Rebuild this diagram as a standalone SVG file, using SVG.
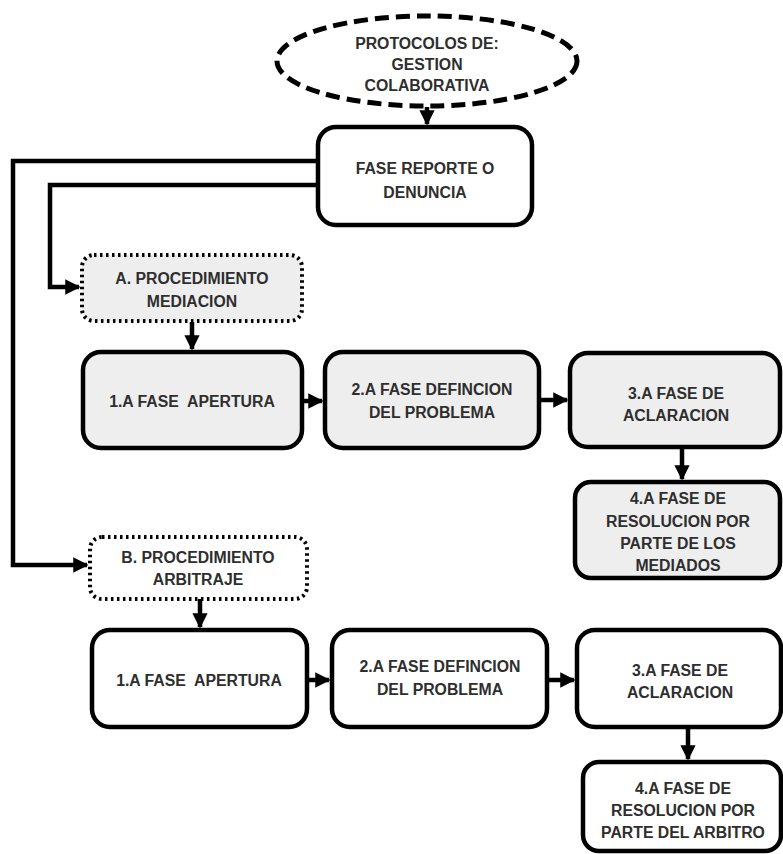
<svg xmlns="http://www.w3.org/2000/svg" width="783" height="854" viewBox="0 0 783 854">
<defs>
<marker id="ah" viewBox="0 0 10 10" refX="9" refY="5" markerWidth="3.4" markerHeight="3.4" orient="auto" markerUnits="strokeWidth">
<path d="M0,0 L10,5 L0,10 Z" fill="#000"/>
</marker>
</defs>
<style>
.box{stroke:#000;stroke-width:4.5;fill:#fff}
.gray{fill:#eeeeee}
.dot{stroke-dasharray:2.5 3.5;stroke-width:4}
.t{font-family:"Liberation Sans",Arial,sans-serif;font-weight:bold;font-size:15.8px;fill:#2e2e2e;text-anchor:middle;white-space:pre}
.c{fill:none;stroke:#000;stroke-width:4.5}
</style>
<rect width="783" height="854" fill="#fff"/>
<g id="connectors">
<path class="c" d="M427,107 V124" marker-end="url(#ah)"/>
<path class="c" d="M318,161 H13 V565 H87" marker-end="url(#ah)"/>
<path class="c" d="M318,185 H50 V287 H79" marker-end="url(#ah)"/>
<path class="c" d="M192,322 V349" marker-end="url(#ah)"/>
<path class="c" d="M302,401 H322" marker-end="url(#ah)"/>
<path class="c" d="M539,400 H567" marker-end="url(#ah)"/>
<path class="c" d="M682,448 V479" marker-end="url(#ah)"/>
<path class="c" d="M200,599 V627" marker-end="url(#ah)"/>
<path class="c" d="M307,680 H329" marker-end="url(#ah)"/>
<path class="c" d="M547,680 H574" marker-end="url(#ah)"/>
<path class="c" d="M688,728 V759" marker-end="url(#ah)"/>
</g>
<g id="n0">
<ellipse cx="427" cy="61" rx="150" ry="45" fill="#fff" stroke="#000" stroke-width="5" stroke-dasharray="14 7"/>
<text class="t" x="427" y="49">PROTOCOLOS DE:</text>
<text class="t" x="427" y="70">GESTION</text>
<text class="t" x="427" y="91">COLABORATIVA</text>
</g>
<g id="n1">
<rect class="box" x="318" y="127" width="214" height="98" rx="18"/>
<text class="t" x="425" y="174">FASE REPORTE O</text>
<text class="t" x="425" y="198">DENUNCIA</text>
</g>
<g id="nA">
<rect class="box gray dot" x="82" y="255" width="220" height="66" rx="12"/>
<text class="t" x="192" y="284">A. PROCEDIMIENTO</text>
<text class="t" x="192" y="307">MEDIACION</text>
</g>
<g id="nA1">
<rect class="box gray" x="83" y="352" width="219" height="96" rx="18"/>
<text class="t" x="192" y="407">1.A FASE  APERTURA</text>
</g>
<g id="nA2">
<rect class="box gray" x="325" y="352" width="214" height="96" rx="18"/>
<text class="t" x="432" y="395">2.A FASE DEFINCION</text>
<text class="t" x="432" y="418">DEL PROBLEMA</text>
</g>
<g id="nA3">
<rect class="box gray" x="570" y="353" width="210" height="94" rx="18"/>
<text class="t" x="676" y="399">3.A FASE DE</text>
<text class="t" x="676" y="421">ACLARACION</text>
</g>
<g id="nA4">
<rect class="box gray" x="575" y="482" width="205" height="96" rx="16"/>
<text class="t" x="678" y="504">4.A FASE DE</text>
<text class="t" x="678" y="527">RESOLUCION POR</text>
<text class="t" x="678" y="549">PARTE DE LOS</text>
<text class="t" x="678" y="571">MEDIADOS</text>
</g>
<g id="nB">
<rect class="box dot" x="90" y="537" width="217" height="62" rx="12"/>
<text class="t" x="198" y="563">B. PROCEDIMIENTO</text>
<text class="t" x="198" y="585">ARBITRAJE</text>
</g>
<g id="nB1">
<rect class="box" x="92" y="630" width="215" height="97" rx="18"/>
<text class="t" x="199" y="686">1.A FASE  APERTURA</text>
</g>
<g id="nB2">
<rect class="box" x="332" y="630" width="215" height="97" rx="18"/>
<text class="t" x="440" y="672">2.A FASE DEFINCION</text>
<text class="t" x="440" y="695">DEL PROBLEMA</text>
</g>
<g id="nB3">
<rect class="box" x="577" y="630" width="204" height="97" rx="18"/>
<text class="t" x="680" y="676">3.A FASE DE</text>
<text class="t" x="680" y="698">ACLARACION</text>
</g>
<g id="nB4">
<rect class="box" x="583" y="762" width="198" height="89" rx="16"/>
<text class="t" x="683" y="794">4.A FASE DE</text>
<text class="t" x="683" y="816">RESOLUCION POR</text>
<text class="t" x="683" y="838">PARTE DEL ARBITRO</text>
</g>
</svg>
